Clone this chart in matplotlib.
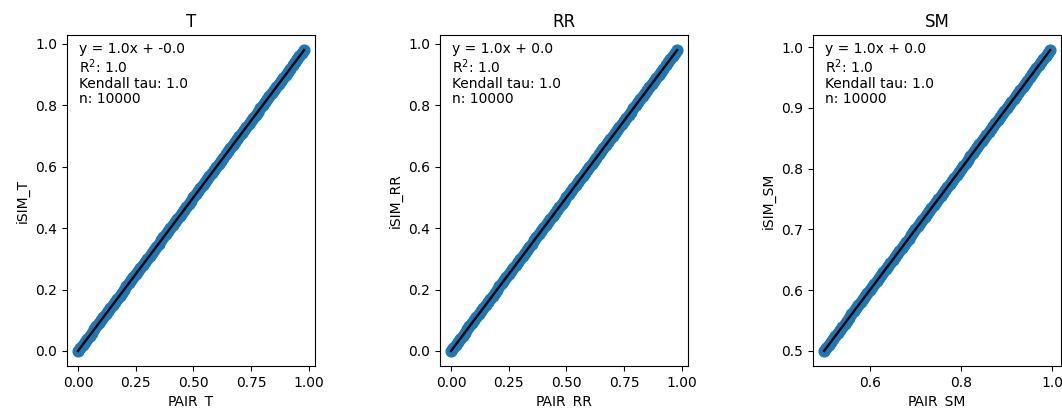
import matplotlib
matplotlib.use('Agg')
import matplotlib.pyplot as plt
import numpy as np

# PAIR vs iSIM similarity values (points lie on y = x)
pair_t = [0.00, 0.01, 0.02, 0.03, 0.04, 0.05, 0.06, 0.07, 0.08, 0.09,
          0.10, 0.11, 0.12, 0.13, 0.14, 0.15, 0.16, 0.17, 0.18, 0.19,
          0.20, 0.21, 0.22, 0.23, 0.24, 0.25, 0.26, 0.27, 0.28, 0.29,
          0.30, 0.31, 0.32, 0.33, 0.34, 0.35, 0.36, 0.37, 0.38, 0.39,
          0.40, 0.41, 0.42, 0.43, 0.44, 0.45, 0.46, 0.47, 0.48, 0.49,
          0.50, 0.51, 0.52, 0.53, 0.54, 0.55, 0.56, 0.57, 0.58, 0.59,
          0.60, 0.61, 0.62, 0.63, 0.64, 0.65, 0.66, 0.67, 0.68, 0.69,
          0.70, 0.71, 0.72, 0.73, 0.74, 0.75, 0.76, 0.77, 0.78, 0.79,
          0.80, 0.81, 0.82, 0.83, 0.84, 0.85, 0.86, 0.87, 0.88, 0.89,
          0.90, 0.91, 0.92, 0.93, 0.94, 0.95, 0.96, 0.97, 0.98]
isim_t = [0.00, 0.01, 0.02, 0.03, 0.04, 0.05, 0.06, 0.07, 0.08, 0.09,
          0.10, 0.11, 0.12, 0.13, 0.14, 0.15, 0.16, 0.17, 0.18, 0.19,
          0.20, 0.21, 0.22, 0.23, 0.24, 0.25, 0.26, 0.27, 0.28, 0.29,
          0.30, 0.31, 0.32, 0.33, 0.34, 0.35, 0.36, 0.37, 0.38, 0.39,
          0.40, 0.41, 0.42, 0.43, 0.44, 0.45, 0.46, 0.47, 0.48, 0.49,
          0.50, 0.51, 0.52, 0.53, 0.54, 0.55, 0.56, 0.57, 0.58, 0.59,
          0.60, 0.61, 0.62, 0.63, 0.64, 0.65, 0.66, 0.67, 0.68, 0.69,
          0.70, 0.71, 0.72, 0.73, 0.74, 0.75, 0.76, 0.77, 0.78, 0.79,
          0.80, 0.81, 0.82, 0.83, 0.84, 0.85, 0.86, 0.87, 0.88, 0.89,
          0.90, 0.91, 0.92, 0.93, 0.94, 0.95, 0.96, 0.97, 0.98]

pair_rr = [0.00, 0.01, 0.02, 0.03, 0.04, 0.05, 0.06, 0.07, 0.08, 0.09,
           0.10, 0.11, 0.12, 0.13, 0.14, 0.15, 0.16, 0.17, 0.18, 0.19,
           0.20, 0.21, 0.22, 0.23, 0.24, 0.25, 0.26, 0.27, 0.28, 0.29,
           0.30, 0.31, 0.32, 0.33, 0.34, 0.35, 0.36, 0.37, 0.38, 0.39,
           0.40, 0.41, 0.42, 0.43, 0.44, 0.45, 0.46, 0.47, 0.48, 0.49,
           0.50, 0.51, 0.52, 0.53, 0.54, 0.55, 0.56, 0.57, 0.58, 0.59,
           0.60, 0.61, 0.62, 0.63, 0.64, 0.65, 0.66, 0.67, 0.68, 0.69,
           0.70, 0.71, 0.72, 0.73, 0.74, 0.75, 0.76, 0.77, 0.78, 0.79,
           0.80, 0.81, 0.82, 0.83, 0.84, 0.85, 0.86, 0.87, 0.88, 0.89,
           0.90, 0.91, 0.92, 0.93, 0.94, 0.95, 0.96, 0.97, 0.98]
isim_rr = [0.00, 0.01, 0.02, 0.03, 0.04, 0.05, 0.06, 0.07, 0.08, 0.09,
           0.10, 0.11, 0.12, 0.13, 0.14, 0.15, 0.16, 0.17, 0.18, 0.19,
           0.20, 0.21, 0.22, 0.23, 0.24, 0.25, 0.26, 0.27, 0.28, 0.29,
           0.30, 0.31, 0.32, 0.33, 0.34, 0.35, 0.36, 0.37, 0.38, 0.39,
           0.40, 0.41, 0.42, 0.43, 0.44, 0.45, 0.46, 0.47, 0.48, 0.49,
           0.50, 0.51, 0.52, 0.53, 0.54, 0.55, 0.56, 0.57, 0.58, 0.59,
           0.60, 0.61, 0.62, 0.63, 0.64, 0.65, 0.66, 0.67, 0.68, 0.69,
           0.70, 0.71, 0.72, 0.73, 0.74, 0.75, 0.76, 0.77, 0.78, 0.79,
           0.80, 0.81, 0.82, 0.83, 0.84, 0.85, 0.86, 0.87, 0.88, 0.89,
           0.90, 0.91, 0.92, 0.93, 0.94, 0.95, 0.96, 0.97, 0.98]

pair_sm = [0.500, 0.505, 0.510, 0.515, 0.520, 0.525, 0.530, 0.535, 0.540, 0.545,
           0.550, 0.555, 0.560, 0.565, 0.570, 0.575, 0.580, 0.585, 0.590, 0.595,
           0.600, 0.605, 0.610, 0.615, 0.620, 0.625, 0.630, 0.635, 0.640, 0.645,
           0.650, 0.655, 0.660, 0.665, 0.670, 0.675, 0.680, 0.685, 0.690, 0.695,
           0.700, 0.705, 0.710, 0.715, 0.720, 0.725, 0.730, 0.735, 0.740, 0.745,
           0.750, 0.755, 0.760, 0.765, 0.770, 0.775, 0.780, 0.785, 0.790, 0.795,
           0.800, 0.805, 0.810, 0.815, 0.820, 0.825, 0.830, 0.835, 0.840, 0.845,
           0.850, 0.855, 0.860, 0.865, 0.870, 0.875, 0.880, 0.885, 0.890, 0.895,
           0.900, 0.905, 0.910, 0.915, 0.920, 0.925, 0.930, 0.935, 0.940, 0.945,
           0.950, 0.955, 0.960, 0.965, 0.970, 0.975, 0.980, 0.985, 0.990, 0.995]
isim_sm = [0.500, 0.505, 0.510, 0.515, 0.520, 0.525, 0.530, 0.535, 0.540, 0.545,
           0.550, 0.555, 0.560, 0.565, 0.570, 0.575, 0.580, 0.585, 0.590, 0.595,
           0.600, 0.605, 0.610, 0.615, 0.620, 0.625, 0.630, 0.635, 0.640, 0.645,
           0.650, 0.655, 0.660, 0.665, 0.670, 0.675, 0.680, 0.685, 0.690, 0.695,
           0.700, 0.705, 0.710, 0.715, 0.720, 0.725, 0.730, 0.735, 0.740, 0.745,
           0.750, 0.755, 0.760, 0.765, 0.770, 0.775, 0.780, 0.785, 0.790, 0.795,
           0.800, 0.805, 0.810, 0.815, 0.820, 0.825, 0.830, 0.835, 0.840, 0.845,
           0.850, 0.855, 0.860, 0.865, 0.870, 0.875, 0.880, 0.885, 0.890, 0.895,
           0.900, 0.905, 0.910, 0.915, 0.920, 0.925, 0.930, 0.935, 0.940, 0.945,
           0.950, 0.955, 0.960, 0.965, 0.970, 0.975, 0.980, 0.985, 0.990, 0.995]

indices = ['T', 'RR', 'SM']
pair_vals = [pair_t, pair_rr, pair_sm]
isim_vals = [isim_t, isim_rr, isim_sm]
fit_labels = ['y = 1.0x + -0.0', 'y = 1.0x + 0.0', 'y = 1.0x + 0.0']
r2_vals = [1.0, 1.0, 1.0]
tau_vals = [1.0, 1.0, 1.0]
n_vals = [10000, 10000, 10000]

fig, axes = plt.subplots(1, 3, figsize=(10.62, 4.08), dpi=100)
fig.subplots_adjust(left=0.0628, right=0.9995, bottom=0.103, top=0.914, wspace=0.5)

for i, ax in enumerate(axes):
    x = np.array(pair_vals[i])
    y = np.array(isim_vals[i])
    ax.scatter(x, y, s=60, color='#1f77b4')
    slope, intercept = np.polyfit(x, y, 1)
    ax.plot(x, slope * x + intercept, color='black', linewidth=1.7)
    ax.text(0.05, 0.98,
            f'{fit_labels[i]}\nR$^2$: {r2_vals[i]}\nKendall tau: {tau_vals[i]}\nn: {n_vals[i]}',
            transform=ax.transAxes, va='top', ha='left', fontsize=10, linespacing=1.1)
    ax.set_title(indices[i])
    ax.set_xlabel(f'PAIR_{indices[i]}')
    ax.set_ylabel(f'iSIM_{indices[i]}')

plt.savefig('out.png', dpi=100)
